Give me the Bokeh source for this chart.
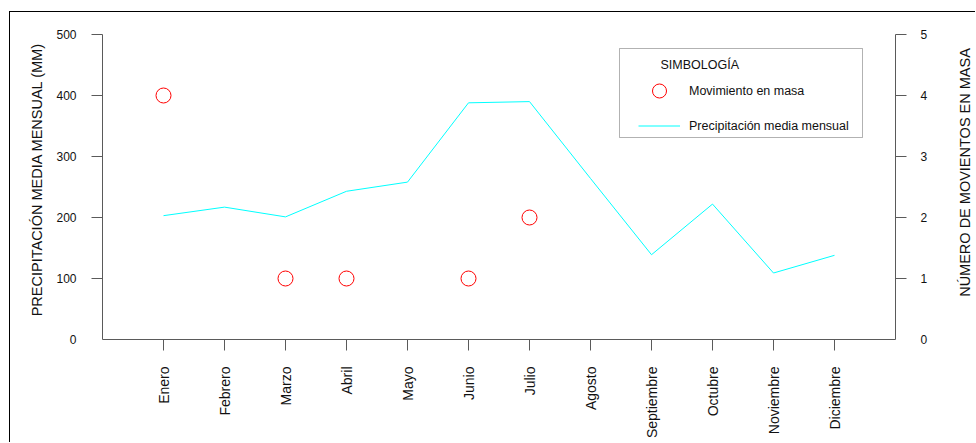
from math import pi

from bokeh.embed import file_html
from bokeh.models import (BoxAnnotation, ColumnDataSource, FixedTicker, Label,
                          Legend, LegendItem, LinearAxis, Range1d)
from bokeh.plotting import figure
from bokeh.resources import INLINE

# ---- data -------------------------------------------------------------
meses = ["Enero", "Febrero", "Marzo", "Abril", "Mayo", "Junio", "Julio",
         "Agosto", "Septiembre", "Octubre", "Noviembre", "Diciembre"]
precipitacion = [203, 217, 201, 243, 258, 388, 390, 264, 139, 222, 109, 138]
meses_movimiento = ["Enero", "Marzo", "Abril", "Junio", "Julio"]
movimientos = [4, 1, 1, 1, 2]
ticks_precip = [0, 100, 200, 300, 400, 500]
ticks_mov = [0, 1, 2, 3, 4, 5]

# ---- page geometry (pixels) --------------------------------------------
FONT = "Liberation Sans"
AXIS = "#5a5a5a"
TEXT = "#111111"
PAGE_LEFT, PAGE_TOP = 10, 12          # canvas origin inside the framed page
W, H = 966, 431                        # canvas size
X_ENERO, PX_MES = 163, 61              # x of first month, px per month
Y_CERO, PX_MM = 339, 0.61              # y of the zero line, px per mm


def sx(px):
    """page x -> screen units measured from the frame's left edge"""
    return px - PAGE_LEFT


def sy(py):
    """page y -> screen units measured from the frame's bottom edge"""
    return PAGE_TOP + H - py


n = len(meses)
idx = list(range(n))
src_precip = ColumnDataSource(dict(x=idx, precip=precipitacion, mes=meses))
src_mov = ColumnDataSource(dict(x=[meses.index(m) for m in meses_movimiento],
                                n=movimientos))

x_range = Range1d((PAGE_LEFT - X_ENERO) / PX_MES,
                  (PAGE_LEFT + W - X_ENERO) / PX_MES)
y_lo = (Y_CERO - (PAGE_TOP + H)) / PX_MM
y_hi = (Y_CERO - PAGE_TOP) / PX_MM
esc_mov = ticks_mov[-1] / ticks_precip[-1]

p = figure(width=W, height=H, x_range=x_range, y_range=Range1d(y_lo, y_hi),
           output_backend="svg", toolbar_location=None, tools="")
p.extra_y_ranges = {"mov": Range1d(y_lo * esc_mov, y_hi * esc_mov)}
p.min_border = 0
p.styles = {"margin-left": "9px", "margin-top": "11px",
            "border-left": "1px solid #000", "border-top": "1px solid #000"}
p.outline_line_color = None
p.grid.visible = False

# ---- x axis at zero with vertical month names ---------------------------
xa = p.xaxis[0]
xa.fixed_location = 0
xa.bounds = (-1, n)
xa.ticker = FixedTicker(ticks=idx)
xa.major_label_overrides = {i: m for i, m in enumerate(meses)}
xa.major_label_orientation = pi / 2
xa.major_tick_out = 11
xa.major_tick_in = 0
xa.minor_tick_out = 0
xa.minor_tick_in = 0
xa.major_label_standoff = 16
xa.axis_line_color = AXIS
xa.major_tick_line_color = AXIS
xa.major_label_text_font = FONT
xa.major_label_text_font_size = "14px"
xa.major_label_text_color = TEXT

# ---- left axis: precipitation -----------------------------------------
ya = p.yaxis[0]
ya.fixed_location = -1
ya.bounds = (ticks_precip[0], ticks_precip[-1])
ya.ticker = FixedTicker(ticks=ticks_precip, minor_ticks=ticks_precip[1:])
ya.axis_line_color = AXIS
ya.major_tick_out = 0
ya.major_tick_in = 0
ya.major_tick_line_color = None
ya.minor_tick_out = 11
ya.minor_tick_in = 0
ya.minor_tick_line_color = AXIS
ya.major_label_standoff = 15
ya.major_label_text_font = FONT
ya.major_label_text_font_size = "12px"
ya.major_label_text_color = TEXT

# ---- right axis: number of mass movements ------------------------------
ra = LinearAxis(y_range_name="mov", fixed_location=n,
                bounds=(ticks_mov[0], ticks_mov[-1]),
                ticker=FixedTicker(ticks=ticks_mov, minor_ticks=ticks_mov[1:]))
ra.axis_line_color = AXIS
ra.major_tick_out = 0
ra.major_tick_in = 0
ra.major_tick_line_color = None
ra.minor_tick_out = 11
ra.minor_tick_in = 0
ra.minor_tick_line_color = AXIS
ra.major_label_standoff = 14
ra.major_label_text_font = FONT
ra.major_label_text_font_size = "12px"
ra.major_label_text_color = TEXT
p.add_layout(ra, "right")

# ---- axis titles ---------------------------------------------------------
p.add_layout(Label(x=sx(36), y=sy(179), x_units="screen", y_units="screen",
                   text="PRECIPITACIÓN MEDIA MENSUAL (MM)", angle=pi / 2,
                   text_align="center", text_baseline="middle",
                   text_font=FONT, text_font_size="14.5px", text_color=TEXT))
p.add_layout(Label(x=sx(964), y=sy(172), x_units="screen", y_units="screen",
                   text="NÚMERO DE MOVIENTOS EN MASA", angle=pi / 2,
                   text_align="center", text_baseline="middle",
                   text_font=FONT, text_font_size="14.5px", text_color=TEXT))

# ---- series -------------------------------------------------------------
r_line = p.line("x", "precip", source=src_precip, line_color="#00ffff",
                line_width=1)
r_mov = p.scatter("x", "n", source=src_mov, y_range_name="mov",
                  marker="circle", size=15, fill_color=None,
                  line_color="#ff0000", line_width=1)

# ---- legend ("SIMBOLOGÍA") -----------------------------------------------
p.add_layout(BoxAnnotation(left=sx(619), right=sx(862), top=sy(48), bottom=sy(137),
                           left_units="screen", right_units="screen",
                           top_units="screen", bottom_units="screen",
                           fill_color="white", fill_alpha=1,
                           line_color="black", line_width=1))
p.add_layout(Label(x=sx(660), y=sy(64), x_units="screen", y_units="screen",
                   text="SIMBOLOGÍA", text_baseline="alphabetic",
                   text_font=FONT, text_font_size="12.5px", text_color=TEXT))
legend = Legend(items=[LegendItem(label="Movimiento en masa", renderers=[r_mov]),
                       LegendItem(label="Precipitación media mensual",
                                  renderers=[r_line])],
                location=(sx(638), sy(143)), padding=0, margin=0, spacing=0,
                glyph_width=42, glyph_height=35, label_standoff=9,
                label_text_font=FONT, label_text_font_size="12.5px",
                label_text_color=TEXT,
                border_line_color=None, background_fill_alpha=0)
p.add_layout(legend)

open("out.html", "w").write(file_html(p, INLINE))
